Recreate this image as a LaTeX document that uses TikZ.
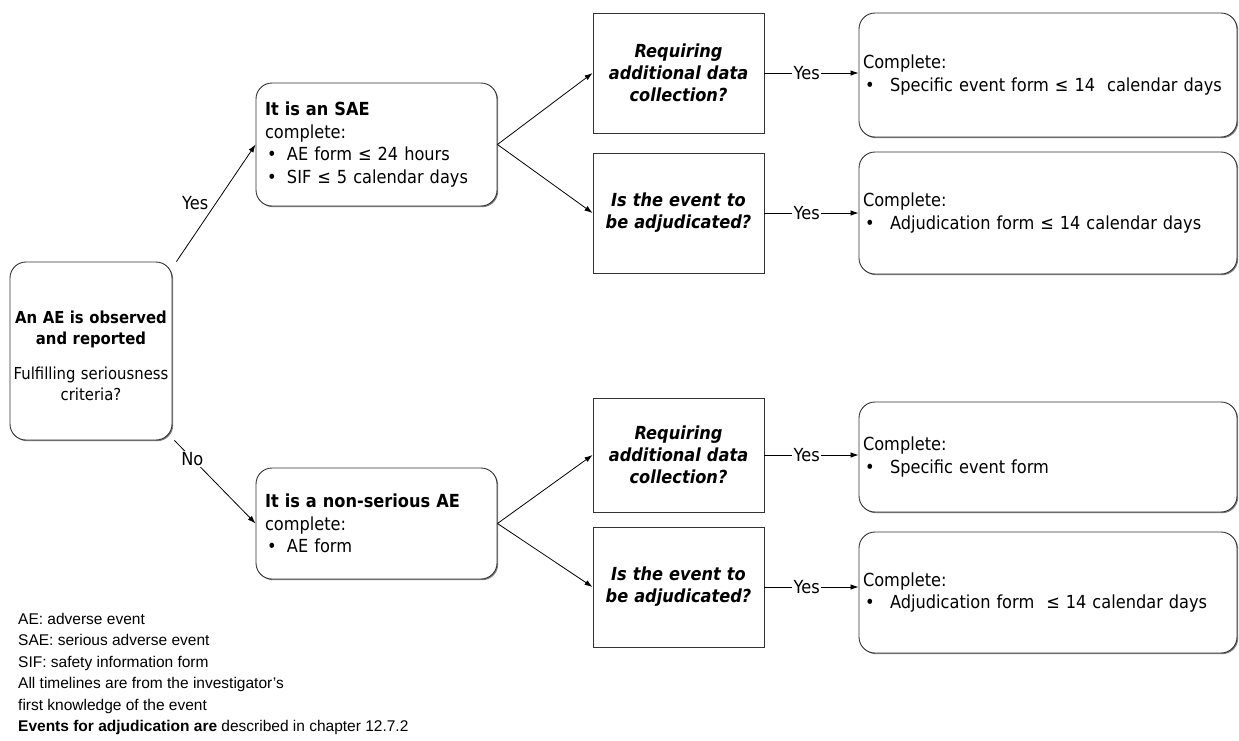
\documentclass[tikz,border=0pt]{standalone}
\usepackage{fontspec}
\setmainfont{DejaVu Sans}[FakeStretch=0.9]
\newfontfamily\legendfont{Liberation Sans}
\usetikzlibrary{arrows.meta,shadows}
\newcommand\mybul[1]{\makebox[#1][l]{\hspace{2pt}•}}
\begin{document}
\begin{tikzpicture}[x=1pt,y=-1pt,
  every node/.style={font=\fontsize{18}{22.5}\selectfont},
  rbox/.style={draw=black!80, line width=0.9pt, rounded corners=16pt, fill=white,
    drop shadow={shadow xshift=1.2pt, shadow yshift=-1.2pt, fill=black!50, opacity=1}},
  qbox/.style={draw=black!80, line width=0.9pt, fill=white, align=center,
    minimum width=171pt, text width=165pt, inner xsep=3pt,
    font=\fontsize{18}{22}\selectfont\bfseries\itshape},
  midbox/.style={rbox, minimum width=241pt, text width=223pt, inner xsep=9pt, align=left},
  resbox/.style={rbox, minimum width=378pt, text width=370pt, inner xsep=4pt, align=left},
  arr/.style={-{Latex[length=8pt,width=5.5pt]}, line width=0.8pt},
  lbl/.style={fill=white, inner sep=1.5pt},
]
\useasboundingbox (0,0) rectangle (1239,740);

% start box
\node[rbox, minimum width=162pt, minimum height=178pt, text width=160pt, inner xsep=1pt, align=center,
  font=\fontsize{16.5}{21}\selectfont]
  (start) at (91,351) {{\bfseries \rule{0pt}{23pt}\mbox{An AE is observed}\\and reported}\\[14pt]\mbox{Fulfilling seriousness}\\criteria?};

% middle boxes
\node[midbox, minimum height=123pt] (sae) at (376.5,144.5)
  {{\bfseries It is an SAE}\\complete:\\\mybul{22pt}AE form ≤ 24 hours\\\mybul{22pt}SIF ≤ 5 calendar days};
\node[midbox, minimum height=111pt] (ns) at (376.5,523.5)
  {{\bfseries It is a non-serious AE}\\complete:\\\mybul{22pt}AE form};

% question boxes
\node[qbox, minimum height=120pt] (q1) at (678.5,73) {Requiring\\additional data\\collection?};
\node[qbox, minimum height=120pt] (q2) at (678.5,213) {Is the event to\\be adjudicated?};
\node[qbox, minimum height=114pt] (q3) at (678.5,455) {Requiring\\additional data\\collection?};
\node[qbox, minimum height=120pt] (q4) at (678.5,587) {Is the event to\\be adjudicated?};

% result boxes
\node[resbox, minimum height=124pt] (r1) at (1048,75)
  {Complete:\\\mybul{27pt}Specific event form ≤ 14\ \ calendar days};
\node[resbox, minimum height=122pt] (r2) at (1048,213)
  {Complete:\\\mybul{27pt}Adjudication form ≤ 14 calendar days};
\node[resbox, minimum height=110pt] (r3) at (1048,457)
  {Complete:\\\mybul{27pt}Specific event form};
\node[resbox, minimum height=121pt] (r4) at (1048,592.5)
  {Complete:\\\mybul{27pt}Adjudication form\ \ ≤ 14 calendar days};

% connectors from start
\coordinate (s1) at ([xshift=4pt]start.north east);
\coordinate (s2) at ([xshift=2pt]start.south east);
\draw[arr] (s1) -- node[left=4pt, pos=0.5] {Yes} (sae.west);
\draw[arr] (s2) -- node[lbl, pos=0.22] {No} (ns.west);

% fan-out
\draw[arr] (sae.east) -- (q1.west);
\draw[arr] (sae.east) -- (q2.west);
\draw[arr] (ns.east) -- (q3.west);
\draw[arr] (ns.east) -- (q4.west);

% yes arrows
\draw[arr] (q1.east) -- node[lbl, pos=0.45] {Yes} (q1.east -| r1.west);
\draw[arr] (q2.east) -- node[lbl, pos=0.45] {Yes} (q2.east -| r2.west);
\draw[arr] (q3.east) -- node[lbl, pos=0.45] {Yes} (q3.east -| r3.west);
\draw[arr] (q4.east) -- node[lbl, pos=0.45] {Yes} (q4.east -| r4.west);

% legend
\node[anchor=north west, inner sep=0pt, align=left, font=\legendfont\fontsize{15.5}{21.5}\selectfont]
  (legend) at (18,613)
  {AE: adverse event\\SAE: serious adverse event\\SIF: safety information form\\All timelines are from the investigator’s\\first knowledge of the event\\\textbf{Events for adjudication are} described in chapter 12.7.2};
\end{tikzpicture}
\end{document}
